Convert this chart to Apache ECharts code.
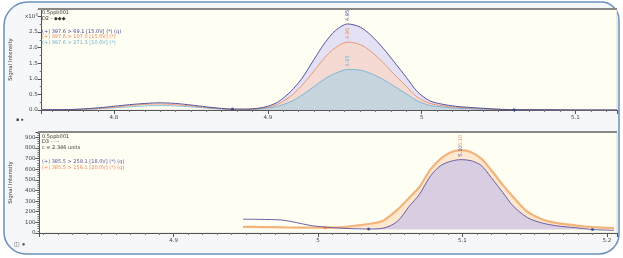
<!DOCTYPE html>
<html><head><meta charset="utf-8">
<script src="https://cdn.jsdelivr.net/npm/echarts@6/dist/echarts.min.js"></script>
<style>html,body{margin:0;padding:0;background:#fff}#c{width:623px;height:258px}</style>
</head><body><div id="c"></div>
<script>
// ---- top panel (x10^3 counts) ----
const timesTop = [4.753,4.765,4.778,4.79,4.80,4.81,4.82,4.83,4.84,4.85,4.86,4.87,4.877,4.885,4.893,4.90,4.907,4.915,4.922,4.93,4.937,4.944,4.952,4.96,4.967,4.975,4.982,4.99,4.997,5.005,5.013,5.022,5.032,5.045,5.06,5.08,5.10,5.127];
const topBlue   = [0.01,0.01,0.03,0.07,0.12,0.17,0.21,0.23,0.21,0.16,0.10,0.05,0.03,0.03,0.05,0.12,0.27,0.60,1.00,1.62,2.15,2.55,2.76,2.66,2.40,1.98,1.55,1.05,0.60,0.30,0.19,0.12,0.08,0.04,0.01,0.01,0.00,0.00];
const topOrange = [0.01,0.01,0.02,0.05,0.09,0.14,0.18,0.19,0.17,0.13,0.08,0.04,0.02,0.02,0.04,0.09,0.20,0.45,0.78,1.25,1.68,2.00,2.18,2.10,1.88,1.52,1.15,0.76,0.42,0.22,0.14,0.09,0.06,0.03,0.01,0.01,0.00,0.00];
const topLight  = [0.01,0.01,0.02,0.04,0.07,0.10,0.13,0.14,0.13,0.10,0.06,0.03,0.01,0.01,0.03,0.06,0.13,0.27,0.47,0.75,1.00,1.18,1.30,1.28,1.17,0.98,0.77,0.52,0.30,0.15,0.10,0.06,0.04,0.02,0.01,0.00,0.00,0.00];
const topIntegration = [4.877, 5.06];
const topPeakLabel = '4.95';
const topYTicks = [0, 0.5, 1.0, 1.5, 2.0, 2.5];
const topLegend = ['0.5ppb001', 'D2 - \u25C6\u25C6\u25C6'];
const topTraces = ['(+) 397.6 > 69.1 [15.0V] (*) (q)', '(+) 397.6 > 107.0 [15.0V] (*)', '(+) 397.6 > 271.3 [10.0V] (*)'];

// ---- bottom panel ----
const timesBottom = [4.948,4.96,4.975,4.985,4.995,5.005,5.015,5.025,5.035,5.045,5.055,5.063,5.07,5.078,5.085,5.092,5.099,5.106,5.113,5.12,5.128,5.135,5.145,5.155,5.165,5.178,5.19,5.205];
const bottomBlue   = [130,128,122,98,70,56,46,40,38,45,110,250,360,540,635,675,690,680,635,520,380,255,145,95,68,50,33,25];
const bottomOrange = [58,56,53,51,50,50,52,68,85,115,220,330,430,600,700,760,780,760,700,590,450,340,200,130,95,72,55,45];
const bottomIntegrationBlue = [5.035, 5.19];
const bottomIntegrationOrange = [5.005, 5.205];
const bottomPeakLabel = '5.10';
const bottomLegend = ['0.5ppb001', 'D3 - ---', 'c = 2.346 units'];
const bottomTraces = ['(+) 385.5 > 259.1 [18.0V] (*) (q)', '(+) 385.5 > 156.1 [20.0V] (*) (q)'];

const C = {
  blue:'#45449a', orange:'#e8865c', light:'#66b0d0',
  blueFill:'#e3e1f3', orangeFill:'#f4dad3', lightFill:'#c6d4de',
  bBlue:'#5b509f', bBlueFill:'#d9cde1', bOrange:'#f2b47c', bOrangeFill:'#fde8cf'
};

function pairs(ts, vs){ return ts.map((t,i)=>[t,vs[i]]); }
function slice(ts, vs, r){ return ts.map((t,i)=>[t,vs[i]]).filter(p=>p[0]>=r[0]-1e-9 && p[0]<=r[1]+1e-9); }
function valAt(ts, vs, t){ let best=0; ts.forEach((x,i)=>{ if(Math.abs(x-t)<Math.abs(ts[best]-t)) best=i; }); return [ts[best], vs[best]]; }
function peakOf(ts, vs){ let mi=0; vs.forEach((v,i)=>{ if(v>vs[mi]) mi=i; }); return [ts[mi], vs[mi]]; }
const xFmt = v => { const r = Math.round(v*10)/10; return Math.abs(v-r)<1e-6 ? String(r) : ''; };

const axisCommonX = (gi, min, max) => ({
  type:'value', gridIndex:gi, min:min, max:max,
  axisLine:{lineStyle:{color:'#555', width:1}},
  axisTick:{length:4, lineStyle:{color:'#555'}},
  minorTick:{show:true, splitNumber:10, length:2, lineStyle:{color:'#777'}},
  splitLine:{show:false},
  axisLabel:{formatter:xFmt, fontSize:5.5, color:'#444', margin:5, fontFamily:'DejaVu Sans'}
});

const area = (gi, data, fill, origin, z) => ({type:'line', xAxisIndex:gi, yAxisIndex:gi, data:data, symbol:'none', smooth:0.3,
  lineStyle:{width:0, opacity:0}, areaStyle:{color:fill, opacity:1, origin:origin}, z:z, silent:true});
const line = (gi, data, color, w, z) => ({type:'line', xAxisIndex:gi, yAxisIndex:gi, data:data, symbol:'none', smooth:0.3,
  lineStyle:{color:color, width:w}, z:z, silent:true});
const peakLabel = (gi, pt, text, color, dist) => ({type:'scatter', xAxisIndex:gi, yAxisIndex:gi, data:[pt], symbolSize:2,
  itemStyle:{color:'rgba(0,0,0,0)'}, z:20, silent:true,
  label:{show:true, formatter:text, position:'top', distance:dist, rotate:90, align:'left', verticalAlign:'middle',
    color:color, fontSize:5, fontFamily:'DejaVu Sans', opacity:1}});

const markersTop = [valAt(timesTop, topBlue, topIntegration[0]), valAt(timesTop, topBlue, topIntegration[1])];
const markersBotBlue = [valAt(timesBottom, bottomBlue, bottomIntegrationBlue[0]), valAt(timesBottom, bottomBlue, bottomIntegrationBlue[1])];
const markersBotOrange = [valAt(timesBottom, bottomOrange, bottomIntegrationOrange[0])];

const textEls = [];
topLegend.forEach((s,i)=>textEls.push({type:'text', left:42, top:10+i*6, z:50, style:{text:s, fontSize:5, fill:'#333', fontFamily:'DejaVu Sans'}}));
[C.blue, C.orange, C.light].forEach((c,i)=>textEls.push({type:'text', left:42, top:29+i*5.6, z:50, style:{text:topTraces[i], fontSize:5, fill:c, fontFamily:'DejaVu Sans'}}));
bottomLegend.forEach((s,i)=>textEls.push({type:'text', left:42, top:134+i*5.6, z:50, style:{text:s, fontSize:5, fill:'#333', fontFamily:'DejaVu Sans'}}));
[C.bBlue, C.orange].forEach((c,i)=>textEls.push({type:'text', left:42, top:159+i*5.8, z:50, style:{text:bottomTraces[i], fontSize:5, fill:c, fontFamily:'DejaVu Sans'}}));
textEls.push({type:'text', left:16, top:117, style:{text:'\u25A0 \u25CF', fontSize:5, fill:'#444'}});
textEls.push({type:'text', left:14, top:241, style:{text:'\u25EB \u25CF', fontSize:6, fill:'#555'}});

const chart = echarts.init(document.getElementById('c'), null, {renderer:'canvas'});
chart.setOption({
  animation:false,
  backgroundColor:'#ffffff',
  graphic:[
    {type:'rect', shape:{x:4, y:2, width:615, height:252, r:[24,18,20,22]}, style:{fill:'#f6f7f9', stroke:'#6b90bd', lineWidth:1.5}, z:-10},
    {type:'line', shape:{x1:38, y1:9, x2:617, y2:9}, style:{stroke:'#888', lineWidth:2}, z:100},
    {type:'line', shape:{x1:38, y1:132, x2:617, y2:132}, style:{stroke:'#888', lineWidth:2}, z:100},
    ...textEls
  ],
  grid:[
    {left:38, top:9, width:579, height:101, show:true, backgroundColor:'#fffef3', borderColor:'#bbb', borderWidth:0.5},
    {left:38, top:132, width:579, height:101, show:true, backgroundColor:'#fffef3', borderColor:'#bbb', borderWidth:0.5}
  ],
  xAxis:[ axisCommonX(0, 4.753, 5.127), axisCommonX(1, 4.807, 5.207) ],
  yAxis:[
    {type:'value', gridIndex:0, min:0, max:3.24, interval:0.5, name:'Signal Intensity', nameLocation:'middle', nameGap:23,
     nameTextStyle:{fontSize:5.5, color:'#444', fontFamily:'DejaVu Sans'},
     axisLine:{show:true, lineStyle:{color:'#555'}}, axisTick:{length:4, lineStyle:{color:'#555'}},
     minorTick:{show:true, splitNumber:2, length:2, lineStyle:{color:'#777'}}, splitLine:{show:false},
     axisLabel:{fontSize:5.5, color:'#444', margin:4, fontFamily:'DejaVu Sans',
       formatter:v=>{ if(Math.abs(v-3)<1e-6) return '{a|x10}{b|3}'; return topYTicks.some(t=>Math.abs(t-v)<1e-6) ? v.toFixed(1) : ''; },
       rich:{a:{fontSize:5.5, color:'#444'}, b:{fontSize:4, color:'#444', verticalAlign:'top', padding:[0,0,4,0]}}}},
    {type:'value', gridIndex:1, min:0, max:950, interval:100, name:'Signal Intensity', nameLocation:'middle', nameGap:23,
     nameTextStyle:{fontSize:5.5, color:'#444', fontFamily:'DejaVu Sans'},
     axisLine:{show:true, lineStyle:{color:'#555'}}, axisTick:{length:4, lineStyle:{color:'#555'}},
     minorTick:{show:true, splitNumber:5, length:2, lineStyle:{color:'#777'}}, splitLine:{show:false},
     axisLabel:{fontSize:5.5, color:'#444', margin:4, fontFamily:'DejaVu Sans',
       formatter:v=> (Math.abs(v/100-Math.round(v/100))<1e-6 ? String(v) : '')}}
  ],
  series:[
    area(0, slice(timesTop, topBlue, topIntegration), C.blueFill, 0, 1),
    area(0, slice(timesTop, topOrange, topIntegration), C.orangeFill, 0, 2),
    area(0, slice(timesTop, topLight, topIntegration), C.lightFill, 0, 3),
    line(0, pairs(timesTop, topLight), C.light, 0.8, 4),
    line(0, pairs(timesTop, topOrange), C.orange, 0.8, 5),
    line(0, pairs(timesTop, topBlue), C.blue, 0.9, 6),
    {type:'scatter', xAxisIndex:0, yAxisIndex:0, data:markersTop, symbolSize:3, itemStyle:{color:'#2c3e80'}, z:7},
    peakLabel(0, peakOf(timesTop, topBlue), topPeakLabel, C.blue, 2),
    peakLabel(0, peakOf(timesTop, topOrange), topPeakLabel, C.orange, 2),
    peakLabel(0, peakOf(timesTop, topLight), topPeakLabel, C.light, 2),

    area(1, slice(timesBottom, bottomOrange, bottomIntegrationOrange), C.bOrangeFill, 45, 1),
    area(1, slice(timesBottom, bottomBlue, bottomIntegrationBlue), C.bBlueFill, 33, 2),
    line(1, pairs(timesBottom, bottomOrange), C.bOrange, 2.2, 4),
    line(1, pairs(timesBottom, bottomBlue), C.bBlue, 0.9, 5),
    {type:'scatter', xAxisIndex:1, yAxisIndex:1, data:markersBotBlue, symbolSize:3, itemStyle:{color:'#2c3e80'}, z:7},
    {type:'scatter', xAxisIndex:1, yAxisIndex:1, data:markersBotOrange, symbolSize:3, itemStyle:{color:'#e07040'}, z:7},
    peakLabel(1, peakOf(timesBottom, bottomOrange), bottomPeakLabel, C.orange, 3),
    peakLabel(1, peakOf(timesBottom, bottomBlue), bottomPeakLabel, C.bBlue, 2)
  ]
});
</script></body></html>
